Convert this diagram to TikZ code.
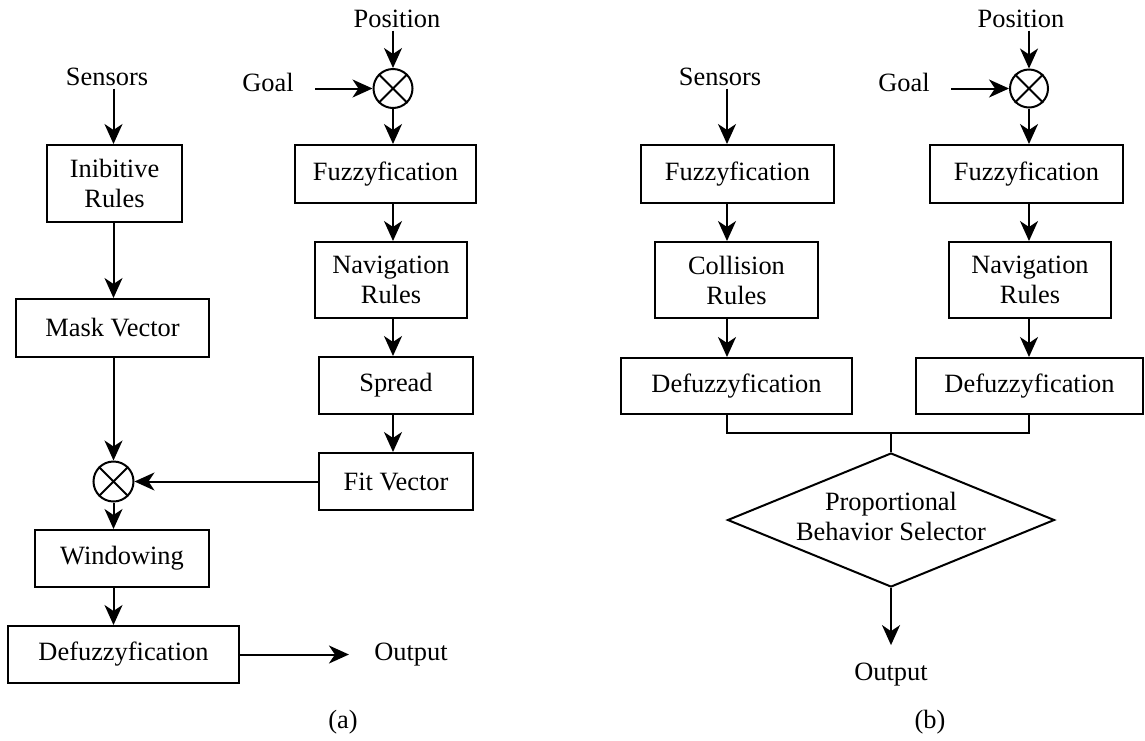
\documentclass[tikz,border=0pt]{standalone}
\usepackage{fontspec}
\setmainfont{Liberation Serif}
\usetikzlibrary{shapes.geometric,arrows.meta}
\begin{document}
\begin{tikzpicture}[x=0.5pt,y=-0.5pt,
  every node/.style={font=\fontsize{13.2pt}{15pt}\selectfont},
  box/.style={draw, line width=1pt, rectangle, inner sep=0pt, align=center},
  txt/.style={inner sep=1.5pt, anchor=base},
  arr/.style={line width=1pt, -{Stealth[length=10pt,width=9pt,inset=3pt]}},
  ln/.style={line width=1pt},
  mult/.style={draw, circle, line width=1pt, inner sep=0pt},
]
\useasboundingbox (0,0) rectangle (1145,740);

% ---------------- panel (a) ----------------
\node[txt] (sensa) at (107,85) {Sensors};
\node[box, minimum width=67.5pt, minimum height=38.5pt] (inib) at (114.5,183.5) {Inibitive\\Rules};
\node[box, minimum width=96.5pt, minimum height=29pt] (mask) at (112.5,328) {Mask Vector};
\node[mult, minimum size=20pt] (c1) at (113.5,481.5) {};
\draw[ln] (c1.north west) -- (c1.south east) (c1.north east) -- (c1.south west);
\node[box, minimum width=87pt, minimum height=28.5pt] (wind) at (122,558.5) {Windowing};
\node[box, minimum width=115.5pt, minimum height=28.5pt] (defa) at (123.5,654.5) {Defuzzyfication};
\node[txt] (outa) at (411,660) {Output};
\node[txt] (laba) at (343,728) {(a)};

\node[txt] (posa) at (397,27) {Position};
\node[txt] (goala) at (268,91) {Goal};
\node[mult, minimum size=19.5pt] (c2) at (393,88.5) {};
\draw[ln] (c2.north west) -- (c2.south east) (c2.north east) -- (c2.south west);
\node[box, minimum width=90.5pt, minimum height=29pt] (fuzza) at (385.5,174) {Fuzzyfication};
\node[box, minimum width=76pt, minimum height=38pt] (nava) at (391,280) {Navigation\\Rules};
\node[box, minimum width=77pt, minimum height=28.5pt] (spread) at (396,385.5) {Spread};
\node[box, minimum width=77pt, minimum height=28.5pt] (fit) at (396,481.5) {Fit Vector};

\draw[arr] (sensa.south -| c1) -- (inib.north -| c1);
\draw[arr] (inib.south -| c1) -- (mask.north -| c1);
\draw[arr] (mask.south -| c1) -- (c1.north);
\draw[arr] (fit.west) -- (c1.east);
\draw[arr] (c1.south) -- (wind.north -| c1);
\draw[arr] (wind.south -| c1) -- (defa.north -| c1);
\draw[arr, shorten >=11pt] (defa.east) -- (outa.west |- defa.east);

\draw[arr] (posa.south -| c2) -- (c2.north);
\draw[arr, shorten <=9pt] (goala.east |- c2) -- (c2.west);
\draw[arr] (c2.south) -- (fuzza.north -| c2);
\draw[arr] (fuzza.south -| c2) -- (nava.north -| c2);
\draw[arr] (nava.south -| c2) -- (spread.north -| c2);
\draw[arr] (spread.south -| c2) -- (fit.north -| c2);

% ---------------- panel (b) ----------------
\coordinate (colb) at (727,0);
\node[txt] (sensb) at (720,85) {Sensors};
\node[box, minimum width=96.5pt, minimum height=29pt] (fuzzb1) at (737.5,174) {Fuzzyfication};
\node[box, minimum width=81.5pt, minimum height=38pt] (coll) at (736.5,280) {Collision\\Rules};
\node[box, minimum width=115.5pt, minimum height=28pt] (defb1) at (736.5,386) {Defuzzyfication};

\node[txt] (posb) at (1021,27) {Position};
\node[txt] (goalb) at (904,91) {Goal};
\node[mult, minimum size=19pt] (c3) at (1029,88.5) {};
\draw[ln] (c3.north west) -- (c3.south east) (c3.north east) -- (c3.south west);
\node[box, minimum width=96.5pt, minimum height=29pt] (fuzzb2) at (1026.5,174) {Fuzzyfication};
\node[box, minimum width=81pt, minimum height=38pt] (navb) at (1030,280) {Navigation\\Rules};
\node[box, minimum width=113.5pt, minimum height=28pt] (defb2) at (1029.5,386) {Defuzzyfication};

\node[draw, diamond, line width=1pt, inner sep=0pt, minimum width=163.5pt, minimum height=67pt] (sel) at (891,520) {};
\node[inner sep=0pt, align=center] (selt) at (891,516) {Proportional\\Behavior Selector};
\node[txt] (outb) at (891,680) {Output};
\node[txt] (labb) at (930,728) {(b)};
\coordinate (jn) at (891,433);

\draw[arr] (sensb.south -| colb) -- (fuzzb1.north -| colb);
\draw[arr] (fuzzb1.south -| colb) -- (coll.north -| colb);
\draw[arr] (coll.south -| colb) -- (defb1.north -| colb);

\draw[arr] (posb.south -| c3) -- (c3.north);
\draw[arr, shorten <=9pt] (goalb.east |- c3) -- (c3.west);
\draw[arr] (c3.south) -- (fuzzb2.north -| c3);
\draw[arr] (fuzzb2.south -| c3) -- (navb.north -| c3);
\draw[arr] (navb.south -| c3) -- (defb2.north -| c3);

\draw[ln] (defb1.south -| colb) |- (jn) -| (defb2.south -| c3);
\draw[ln] (jn) -- (sel.north);
\draw[arr, shorten >=7pt] (sel.south) -- (outb.north);
\end{tikzpicture}
\end{document}
